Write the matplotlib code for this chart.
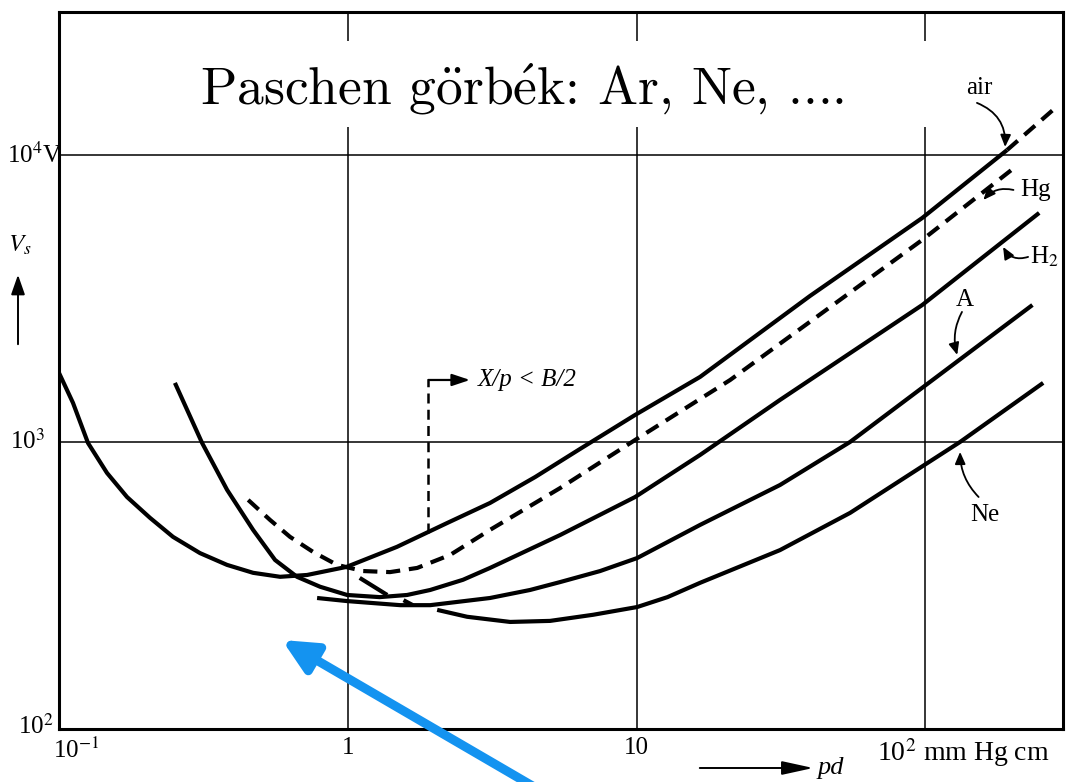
import matplotlib.pyplot as plt
from matplotlib.patches import Rectangle, FancyArrowPatch

# Sparking potential V_s (volts) against pd (mm Hg cm)
air_pd = [0.1, 0.1118, 0.126, 0.1466, 0.172, 0.2066, 0.2482, 0.3077, 0.3818, 0.47, 0.583, 0.723,
          0.99, 1.48, 2.21, 3.11, 4.46, 6.38, 9.89, 16.6, 39.9, 97.6, 192]
air_v = [1740, 1368, 992, 780, 643, 544, 467, 410, 373, 350, 339, 344,
         367, 431, 522, 613, 755, 946, 1242, 1685, 3227, 6030, 10400]
air_ext_pd = [192, 277]
air_ext_v = [10400, 14350]

h2_pd = [0.252, 0.313, 0.382, 0.47, 0.56, 0.667, 0.802, 0.995, 1.29, 1.605, 1.93, 2.507, 3.11,
         5.44, 9.89, 16.6, 31.4, 97.6, 248]
h2_v = [1606, 992, 681, 494, 388, 339, 313, 293, 288, 293, 305, 331, 364,
        474, 643, 901, 1401, 3000, 6280]

hg_pd = [0.452, 0.538, 0.631, 0.758, 0.918, 1.13, 1.40, 1.74, 2.262, 3.11, 5.44, 9.89, 21.1, 97.6, 205]
hg_v = [628, 535, 467, 414, 373, 355, 352, 364, 404, 494, 691, 1016, 1644, 5057, 9080]

ar_pd = [0.783, 0.995, 1.52, 1.93, 3.11, 4.28, 5.44, 7.48, 10.05, 16.6, 31.4, 54.9, 235]
ar_v = [286, 279, 270, 270, 286, 305, 325, 355, 394, 514, 708, 1000, 3000]

ne_pd = [2.04, 2.59, 3.65, 5.02, 7.08, 10.05, 12.8, 16.6, 31.4, 54.9, 132, 256]
ne_v = [260, 246, 236, 238, 250, 266, 288, 323, 420, 566, 1000, 1606]

# short joining strokes near the minima
join_pd = [1.10, 1.37]
join_v = [336, 293]
join2_pd = [1.56, 1.68]
join2_v = [281, 270]

# X/p < B/2 boundary marker
xp_pd = 1.90
xp_v = [482, 1644]
xp_arrow_pd = [1.90, 2.65]

x_ticks = [0.1, 1, 10, 100]
y_ticks = [100, 1000, 10000]

book_font = 'Liberation Serif'
ink = 'black'

fig = plt.figure(figsize=(10.67, 7.82), dpi=100)
ax = fig.add_axes([0.0553, 0.0678, 0.941, 0.917])
ax.set_xscale('log')
ax.set_yscale('log')
ax.set_xlim(0.1, 300)
ax.set_ylim(100, 31500)
ax.set_xticks([])
ax.set_yticks([])
ax.minorticks_off()
for s in ax.spines.values():
    s.set_linewidth(2.2)
    s.set_color(ink)

for xv in x_ticks[1:]:
    ax.axvline(xv, color=ink, lw=1.1, zorder=1)
for yv in y_ticks[1:]:
    ax.axhline(yv, color=ink, lw=1.1, zorder=1)

curve_kw = dict(color=ink, lw=3.0, solid_capstyle='butt', solid_joinstyle='round', zorder=3)
dash_kw = dict(color=ink, lw=3.0, dashes=(3.4, 2.1), zorder=3)
ax.plot(air_pd, air_v, **curve_kw)
ax.plot(air_ext_pd, air_ext_v, **dash_kw)
ax.plot(h2_pd, h2_v, **curve_kw)
ax.plot(hg_pd, hg_v, **dash_kw)
ax.plot(ar_pd, ar_v, **curve_kw)
ax.plot(ne_pd, ne_v, **curve_kw)
ax.plot(join_pd, join_v, **curve_kw)
ax.plot(join2_pd, join2_v, **curve_kw)

# X/p < B/2 marker
ax.plot([xp_pd, xp_pd], xp_v, color=ink, lw=1.8, dashes=(4, 2.5), zorder=2)
ax.annotate('', xy=(xp_arrow_pd[1], xp_v[1]), xytext=(xp_arrow_pd[0], xp_v[1]),
            arrowprops=dict(arrowstyle='-|>,head_length=0.9,head_width=0.3',
                            mutation_scale=12, lw=1.6, color=ink, shrinkA=0, shrinkB=0))
ax.text(2.83, xp_v[1], 'X/p < B/2', family=book_font, style='italic', fontsize=18,
        ha='left', va='center')

# gas labels with pointers
def label(txt, xy_text, xy_tip, xy_tail, rad, ha='center'):
    ax.text(xy_text[0], xy_text[1], txt, family=book_font, fontsize=18, ha=ha, va='center',
            math_fontfamily='stix')
    ax.annotate('', xy=xy_tip, xytext=xy_tail,
                arrowprops=dict(arrowstyle='-|>,head_length=0.8,head_width=0.35',
                                mutation_scale=9, lw=1.3, color=ink, shrinkA=0, shrinkB=0,
                                connectionstyle=f'arc3,rad={rad}'))

label('air', (170.5, 17120), (189, 10660), (151, 15180), -0.35, ha='right')
label('Hg', (213, 7551), (159, 6970), (202, 7551), 0.3, ha='left')
label('H$_2$', (231, 4412), (186, 4780), (227, 4412), -0.4, ha='left')
label('A', (137, 3124), (129, 2010), (134, 2838), 0.2)
label('Ne', (161, 557), (132, 923), (153, 643), -0.2)

# axis numbers
num_kw = dict(family=book_font, fontsize=18, math_fontfamily='stix')
ax.annotate('10$^{-1}$', xy=(x_ticks[0], y_ticks[0]), xytext=(-4, -6), textcoords='offset points',
            ha='left', va='top', **num_kw)
ax.annotate('1', xy=(x_ticks[1], y_ticks[0]), xytext=(0, -6), textcoords='offset points',
            ha='center', va='top', **num_kw)
ax.annotate('10', xy=(x_ticks[2], y_ticks[0]), xytext=(0, -6), textcoords='offset points',
            ha='center', va='top', **num_kw)
ax.annotate('10$^2$ mm Hg cm', xy=(x_ticks[3], y_ticks[0]), xytext=(-35, -5),
            textcoords='offset points', ha='left', va='top', family=book_font, fontsize=20,
            math_fontfamily='stix')
ax.annotate('10$^2$', xy=(x_ticks[0], y_ticks[0]), xytext=(-4, 2), textcoords='offset points',
            ha='right', va='center', **num_kw)
ax.annotate('10$^3$', xy=(x_ticks[0], y_ticks[1]), xytext=(-10, 0), textcoords='offset points',
            ha='right', va='center', **num_kw)
ax.annotate('10$^4$V', xy=(x_ticks[0], y_ticks[2]), xytext=(2, 0), textcoords='offset points',
            ha='right', va='center', **num_kw)

# axis names with arrows
fig.text(20 / 1067, 1 - 245 / 782, '$V_s$', fontsize=18, ha='center', va='center',
         math_fontfamily='stix')
fig.add_artist(FancyArrowPatch((18 / 1067, 1 - 347 / 782), (18 / 1067, 1 - 272 / 782),
                               transform=fig.transFigure, color=ink, lw=1.4,
                               arrowstyle='-|>,head_length=1.0,head_width=0.35', mutation_scale=12))
fig.add_artist(FancyArrowPatch((697 / 1067, 1 - 768 / 782), (816 / 1067, 1 - 768 / 782),
                               transform=fig.transFigure, color=ink, lw=1.4,
                               arrowstyle='-|>,head_length=1.6,head_width=0.35', mutation_scale=12))
fig.text(818 / 1067, 1 - 768 / 782, 'pd', family=book_font, style='italic', fontsize=19,
         ha='left', va='center')

# title on a white panel
fig.add_artist(Rectangle((180 / 1067, 1 - 127 / 782), (958 - 180) / 1067, 86 / 782,
                         transform=fig.transFigure, facecolor='white', edgecolor='none', zorder=5))
fig.text(522 / 1067, 1 - 89 / 782,
         r'Paschen $\mathrm{g\ddot{o}rb\acute{e}k}$: Ar, Ne, ....',
         family='cmr10', fontsize=38.5, ha='center', va='center', math_fontfamily='cm', zorder=6)

# pointer arrow
fig.add_artist(FancyArrowPatch((560 / 1067, -20 / 782), (282 / 1067, 1 - 640 / 782),
                               transform=fig.transFigure, color='#1493f0', lw=6.5,
                               arrowstyle='-|>,head_length=1.0,head_width=0.48',
                               mutation_scale=20, shrinkA=0, shrinkB=0, zorder=7))

fig.savefig('out.png', dpi=100)
